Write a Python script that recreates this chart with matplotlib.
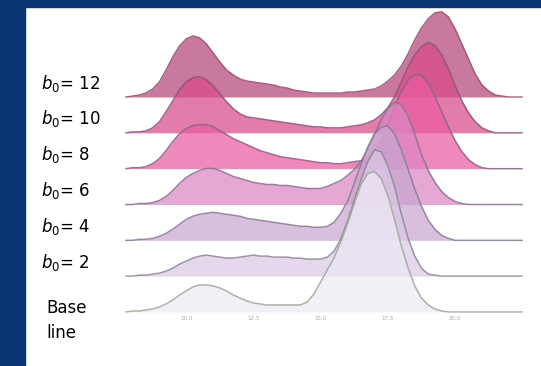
import numpy as np
import matplotlib.pyplot as plt
from matplotlib.patches import Rectangle
from matplotlib.transforms import blended_transform_factory

# shared x grid for all density curves
x = np.linspace(7.75, 22.5, 60)

# density per row (base line first, then b0 = 2 ... 12)
dens_base = [0.00, 0.01, 0.01, 0.02, 0.03, 0.05, 0.08, 0.12, 0.17, 0.21,
             0.25, 0.27, 0.27, 0.26, 0.24, 0.21, 0.17, 0.14, 0.11, 0.09,
             0.08, 0.07, 0.07, 0.07, 0.07, 0.07, 0.07, 0.10, 0.18, 0.30,
             0.42, 0.54, 0.70, 0.88, 1.08, 1.27, 1.38, 1.40, 1.33, 1.16,
             0.92, 0.66, 0.44, 0.26, 0.14, 0.07, 0.03, 0.01, 0.00, 0.00,
             0.00, 0.00, 0.00, 0.00, 0.00, 0.00, 0.00, 0.00, 0.00, 0.00]
dens_b2 = [0.00, 0.00, 0.01, 0.01, 0.02, 0.03, 0.05, 0.08, 0.12, 0.15,
           0.18, 0.20, 0.21, 0.20, 0.19, 0.18, 0.18, 0.19, 0.20, 0.21,
           0.20, 0.20, 0.19, 0.19, 0.19, 0.18, 0.18, 0.17, 0.17, 0.17,
           0.19, 0.25, 0.37, 0.55, 0.76, 0.96, 1.14, 1.26, 1.24, 1.10,
           0.89, 0.62, 0.38, 0.20, 0.08, 0.02, 0.01, 0.00, 0.00, 0.00,
           0.00, 0.00, 0.00, 0.00, 0.00, 0.00, 0.00, 0.00, 0.00, 0.00]
dens_b4 = [0.00, 0.00, 0.01, 0.01, 0.02, 0.04, 0.07, 0.11, 0.16, 0.21,
           0.24, 0.26, 0.27, 0.28, 0.27, 0.26, 0.25, 0.24, 0.22, 0.21,
           0.20, 0.19, 0.18, 0.17, 0.16, 0.15, 0.14, 0.14, 0.13, 0.13,
           0.14, 0.18, 0.27, 0.39, 0.57, 0.76, 0.93, 1.06, 1.13, 1.14,
           1.06, 0.90, 0.71, 0.51, 0.34, 0.20, 0.11, 0.05, 0.02, 0.00,
           0.00, 0.00, 0.00, 0.00, 0.00, 0.00, 0.00, 0.00, 0.00, 0.00]
dens_b6 = [0.00, 0.00, 0.01, 0.01, 0.02, 0.04, 0.08, 0.14, 0.21, 0.27,
           0.31, 0.34, 0.36, 0.36, 0.34, 0.31, 0.28, 0.26, 0.24, 0.22,
           0.21, 0.20, 0.20, 0.19, 0.19, 0.18, 0.17, 0.16, 0.16, 0.16,
           0.18, 0.21, 0.24, 0.29, 0.35, 0.43, 0.55, 0.70, 0.84, 0.96,
           1.02, 1.00, 0.88, 0.70, 0.50, 0.34, 0.22, 0.13, 0.07, 0.03,
           0.01, 0.00, 0.00, 0.00, 0.00, 0.00, 0.00, 0.00, 0.00, 0.00]
dens_b8 = [0.00, 0.01, 0.01, 0.02, 0.05, 0.10, 0.18, 0.27, 0.35, 0.40,
           0.43, 0.44, 0.44, 0.42, 0.38, 0.34, 0.30, 0.27, 0.24, 0.21,
           0.18, 0.16, 0.14, 0.12, 0.11, 0.10, 0.09, 0.08, 0.07, 0.06,
           0.06, 0.05, 0.05, 0.06, 0.07, 0.08, 0.11, 0.18, 0.29, 0.44,
           0.61, 0.77, 0.88, 0.94, 0.93, 0.85, 0.72, 0.57, 0.42, 0.28,
           0.17, 0.09, 0.04, 0.01, 0.00, 0.00, 0.00, 0.00, 0.00, 0.00]
dens_b10 = [0.00, 0.01, 0.01, 0.02, 0.05, 0.11, 0.21, 0.32, 0.43, 0.51,
            0.55, 0.56, 0.53, 0.47, 0.39, 0.31, 0.24, 0.19, 0.16, 0.15,
            0.14, 0.13, 0.12, 0.11, 0.10, 0.09, 0.08, 0.07, 0.06, 0.06,
            0.05, 0.05, 0.05, 0.06, 0.07, 0.08, 0.10, 0.13, 0.18, 0.25,
            0.36, 0.51, 0.66, 0.78, 0.86, 0.90, 0.87, 0.78, 0.64, 0.47,
            0.32, 0.20, 0.11, 0.05, 0.02, 0.00, 0.00, 0.00, 0.00, 0.00]
dens_b12 = [0.00, 0.01, 0.02, 0.04, 0.08, 0.15, 0.27, 0.40, 0.51, 0.58,
            0.61, 0.59, 0.53, 0.44, 0.35, 0.27, 0.22, 0.18, 0.16, 0.15,
            0.14, 0.13, 0.12, 0.10, 0.09, 0.07, 0.06, 0.05, 0.04, 0.04,
            0.04, 0.04, 0.04, 0.05, 0.05, 0.06, 0.07, 0.08, 0.11, 0.16,
            0.22, 0.31, 0.43, 0.57, 0.69, 0.78, 0.84, 0.85, 0.80, 0.68,
            0.53, 0.38, 0.23, 0.12, 0.06, 0.02, 0.01, 0.00, 0.00, 0.00]

row_labels = ['Base\nline', '2', '4', '6', '8', '10', '12']
rows = [dens_base, dens_b2, dens_b4, dens_b6, dens_b8, dens_b10, dens_b12]
tick_vals = [10.0, 12.5, 15.0, 17.5, 20.0]
tick_text = ['10.0', '12.5', '15.0', '17.5', '20.0']

fill_colors = ['#edeaf5', '#dcc9e5', '#c9a7d1', '#dc86c3', '#ea5ca2', '#d94a89', '#b34678']
line_colors = ['#a3ab9c', '#8f8a98', '#8a7e95', '#8a7590', '#8a6584', '#8a5877', '#95566f']
spacing = 0.357

fig = plt.figure(figsize=(5.41, 3.66), dpi=100)
fig.patch.set_facecolor('white')

# slide frame: blue strip on the left and along the top
blue = '#0b3575'
fig.patches.append(Rectangle((0, 0), 25 / 541, 1, transform=fig.transFigure, color=blue, zorder=0))
fig.patches.append(Rectangle((0, 1 - 7 / 366), 1, 7 / 366, transform=fig.transFigure, color=blue, zorder=0))

ax = fig.add_axes([119 / 541, 53 / 366, 403.3 / 541, 301 / 366])
ax.set_xlim(7.5, 22.5)
ax.set_ylim(-0.01, 2.99)
ax.patch.set_alpha(0)
for s in ax.spines.values():
    s.set_visible(False)
ax.set_yticks([])
ax.set_xticks(tick_vals)
ax.set_xticklabels(tick_text, fontsize=4, color='#a8a8a8')
ax.tick_params(axis='x', length=0, pad=2)

# ridges: top row first so lower rows overlap the ones above
n = len(rows)
for i in range(n - 1, -1, -1):
    base = i * spacing
    d = np.array(rows[i])
    z = (n - i) * 3
    ax.fill_between(x, base, base + d, color=fill_colors[i], alpha=0.72, lw=0, zorder=z,
                    clip_on=False)
    ax.plot(x, base + d, color=line_colors[i], lw=1.1, alpha=0.9, zorder=z + 1,
            solid_capstyle='round', clip_on=False)
    ax.plot([x[0], x[-1]], [base - 0.012, base - 0.012], color='white', lw=1.0,
            alpha=0.8, zorder=z + 2, clip_on=False)

# row labels on the left
plt.rcParams['mathtext.fontset'] = 'dejavusans'
tr = blended_transform_factory(fig.transFigure, ax.transData)
for i in range(1, n):
    ax.text(41 / 541, i * spacing + 0.14, r'$\mathit{b}_{\mathit{0}}$= ' + row_labels[i],
            transform=tr, fontsize=12, va='center', ha='left', color='black')
ax.text(46 / 541, 0.04, 'Base', transform=tr, fontsize=12, va='center', ha='left')
ax.text(46 / 541, -0.21, 'line', transform=tr, fontsize=12, va='center', ha='left')

fig.savefig('out.png', dpi=100)
